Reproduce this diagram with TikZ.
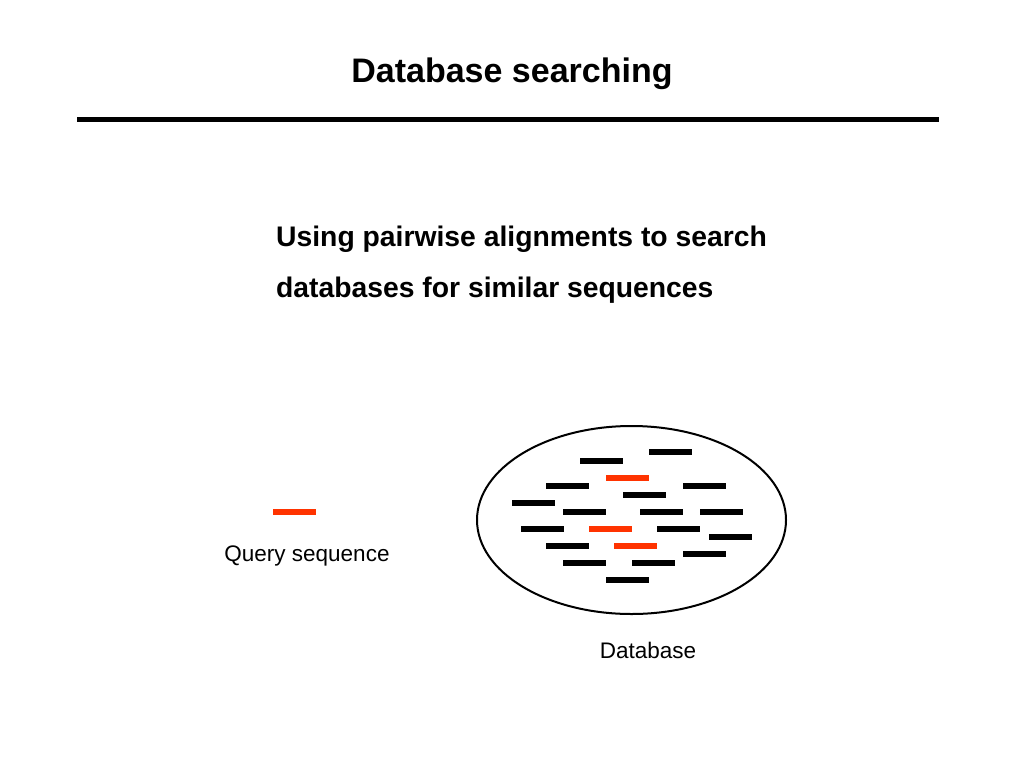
\documentclass[tikz,border=0pt]{standalone}
\usepackage{fontspec}
\setmainfont{Liberation Sans}
\definecolor{hitred}{RGB}{255,51,0}
\tikzset{
  seq/.style={line width=6pt},
  hit/.style={seq, hitred},
  label/.style={inner sep=0pt, anchor=base, font=\fontsize{22.5}{27}\selectfont}
}

\begin{document}
\begin{tikzpicture}[x=1pt, y=-1pt]
\useasboundingbox (0, 0) rectangle (1024, 768);
\node[inner sep=0pt, anchor=base, font=\bfseries\fontsize{34}{40}\selectfont] (title) at (512, 82) {Database searching};
\draw[line width=4.5pt] (77, 119.5) -- (939, 119.5);
\node[inner sep=0pt, anchor=base west, font=\bfseries\fontsize{28.3}{34}\selectfont] (line1) at (276, 246) {Using pairwise alignments to search};
\node[inner sep=0pt, anchor=base west, font=\bfseries\fontsize{28.3}{34}\selectfont] (line2) at (276, 297) {databases for similar sequences};
\draw[hit] (273, 512) -- +(42.6, 0);
\node[label] (query) at (307, 561) {Query sequence};
\draw[line width=2pt] (631.5, 520) ellipse [x radius=154.5, y radius=94];
\foreach \x/\y in {649/452, 580/461, 546/486, 683/486, 623/495, 512/503, 563/512, 640/512, 700/512, 521/529, 657/529, 709/537, 546/546, 683/554, 563/563, 632/563, 606/580}
  \draw[seq] (\x, \y) -- +(42.6, 0);
\foreach \x/\y in {606/478, 589/529, 614/546}
  \draw[hit] (\x, \y) -- +(42.6, 0);
\node[label] (database) at (648, 658) {Database};
\end{tikzpicture}
\end{document}
